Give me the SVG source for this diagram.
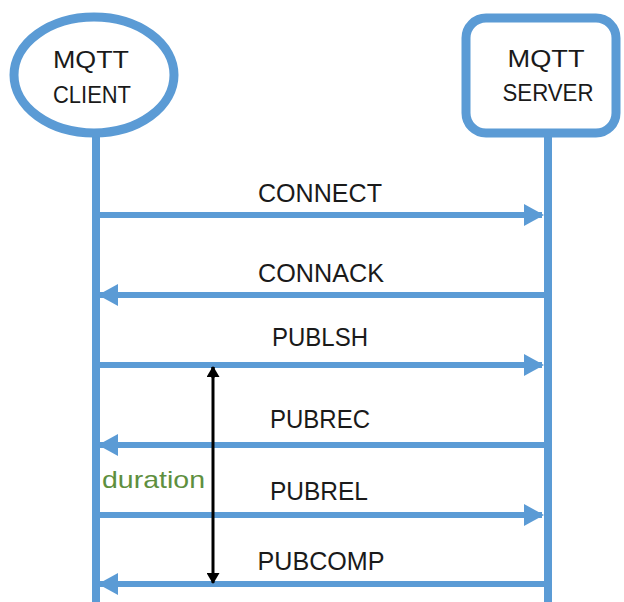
<svg xmlns="http://www.w3.org/2000/svg" width="624" height="602" viewBox="0 0 624 602">
  <style>
    .life { stroke: #5b9bd5; stroke-width: 8; fill: none; }
    .msg { stroke: #5b9bd5; stroke-width: 6; fill: none; }
    .lbl { font-family: "Liberation Sans", Arial, sans-serif; font-size: 25px; fill: #1a1a1a; text-anchor: middle; }
    .ttl { font-size: 24px; }
    .node { fill: #ffffff; stroke: #5b9bd5; stroke-width: 9; }
  </style>
  <defs>
    <marker id="head" viewBox="0 0 20 22" refX="18" refY="11" markerWidth="20" markerHeight="22" markerUnits="userSpaceOnUse" orient="auto">
      <path d="M0,0 L20,11 L0,22 Z" fill="#5b9bd5"/>
    </marker>
    <marker id="tick" viewBox="0 0 11 13" refX="10" refY="6.5" markerWidth="11" markerHeight="13" markerUnits="userSpaceOnUse" orient="auto">
      <path d="M0,0 L11,6.5 L0,13 Z" fill="#000000"/>
    </marker>
  </defs>

  <!-- lifelines -->
  <g id="lifelines">
    <line class="life" x1="96" y1="136" x2="96" y2="602"/>
    <line class="life" x1="548" y1="134" x2="548" y2="602"/>
  </g>

  <g id="client">
    <ellipse class="node" cx="94" cy="75" rx="80" ry="58"/>
    <text class="lbl ttl" x="91" y="68" textLength="76" lengthAdjust="spacingAndGlyphs">MQTT</text>
    <text class="lbl ttl" x="92" y="103" textLength="78" lengthAdjust="spacingAndGlyphs">CLIENT</text>
  </g>

  <g id="server">
    <rect class="node" x="466" y="18" width="150" height="115" rx="20"/>
    <text class="lbl ttl" x="546" y="67" textLength="77" lengthAdjust="spacingAndGlyphs">MQTT</text>
    <text class="lbl ttl" x="548" y="101" textLength="91" lengthAdjust="spacingAndGlyphs">SERVER</text>
  </g>

  <!-- messages -->
  <g id="connectors">
    <line class="msg" x1="96" y1="215" x2="542" y2="215" marker-end="url(#head)"/>
    <line class="msg" x1="548" y1="295" x2="100" y2="295" marker-end="url(#head)"/>
    <line class="msg" x1="96" y1="365" x2="542" y2="365" marker-end="url(#head)"/>
    <line class="msg" x1="548" y1="445" x2="100" y2="445" marker-end="url(#head)"/>
    <line class="msg" x1="96" y1="515" x2="542" y2="515" marker-end="url(#head)"/>
    <line class="msg" x1="548" y1="584" x2="100" y2="584" marker-end="url(#head)"/>
    <!-- duration span -->
    <line x1="213" y1="378" x2="213" y2="367" stroke="#000" stroke-width="3" marker-end="url(#tick)"/>
    <line x1="213" y1="367" x2="213" y2="583" stroke="#000" stroke-width="3" marker-end="url(#tick)"/>
  </g>

  <g id="labels">
    <text class="lbl" x="320" y="202" textLength="124" lengthAdjust="spacingAndGlyphs">CONNECT</text>
    <text class="lbl" x="321" y="282" textLength="126" lengthAdjust="spacingAndGlyphs">CONNACK</text>
    <text class="lbl" x="320" y="346" textLength="96" lengthAdjust="spacingAndGlyphs">PUBLSH</text>
    <text class="lbl" x="320" y="428" textLength="100" lengthAdjust="spacingAndGlyphs">PUBREC</text>
    <text class="lbl" x="319" y="500" textLength="98" lengthAdjust="spacingAndGlyphs">PUBREL</text>
    <text class="lbl" x="321" y="570" textLength="127" lengthAdjust="spacingAndGlyphs">PUBCOMP</text>
    <text x="102" y="488" font-family="Liberation Sans, Arial, sans-serif" font-size="24" fill="#5e8f3e" textLength="103" lengthAdjust="spacingAndGlyphs">duration</text>
  </g>
</svg>
